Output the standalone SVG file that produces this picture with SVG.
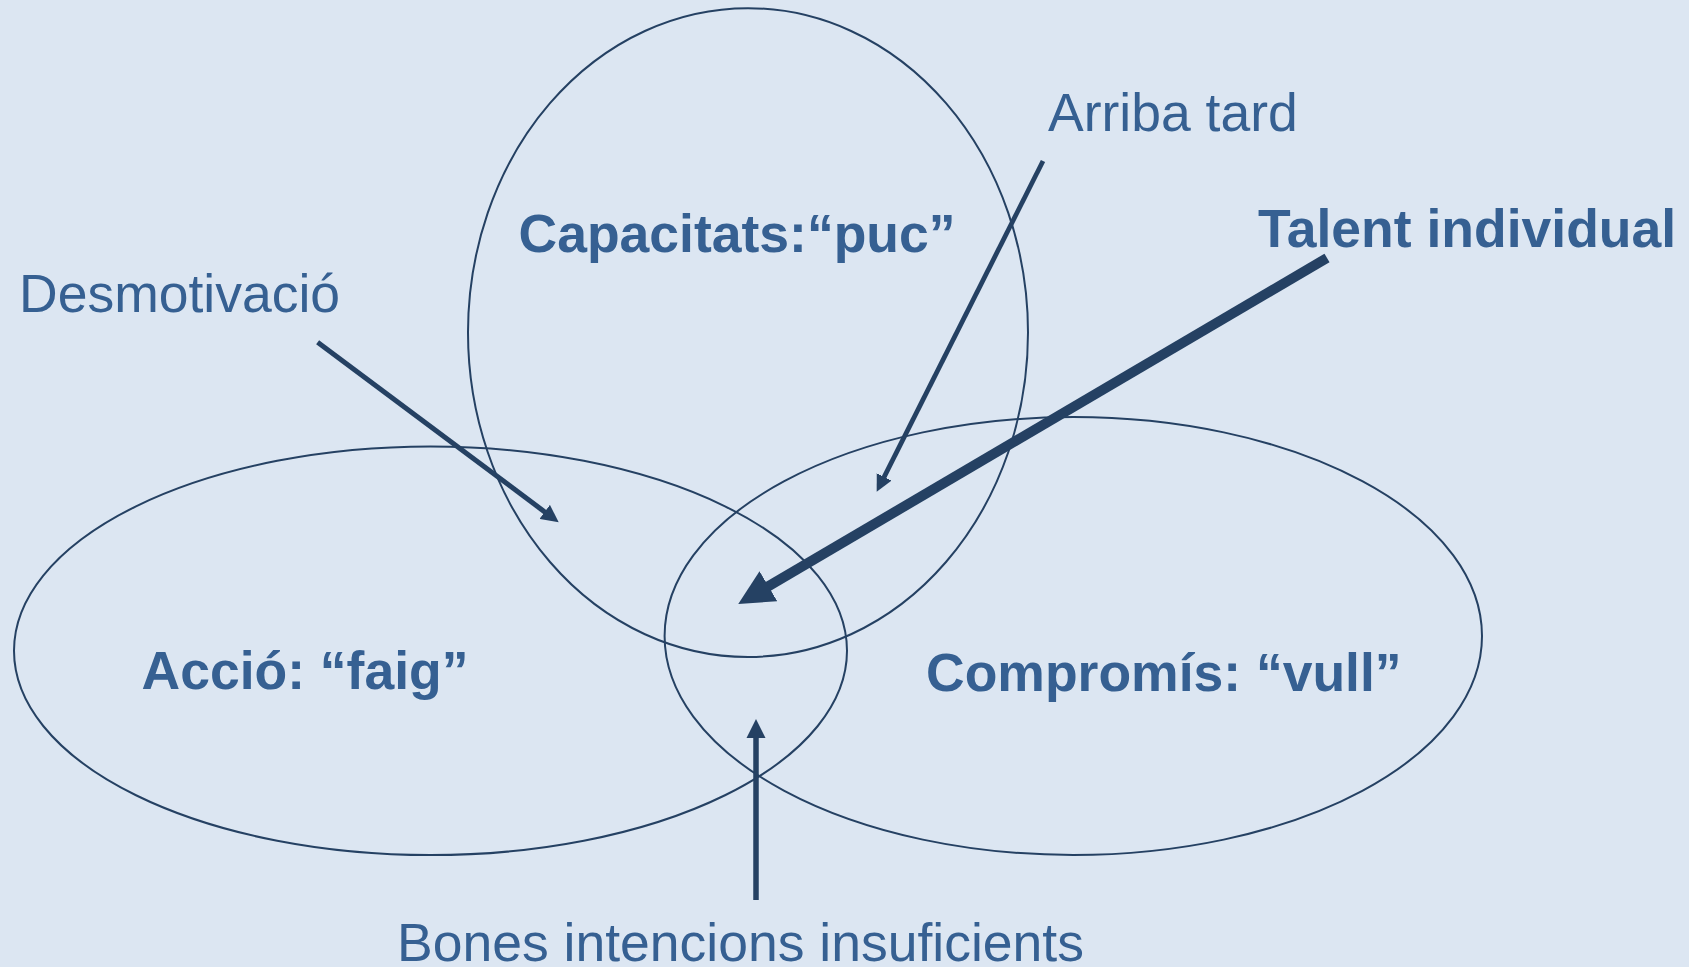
<svg xmlns="http://www.w3.org/2000/svg" width="1689" height="967" viewBox="0 0 1689 967">
<style>
.ell{fill:none;stroke:#254163;stroke-width:2}
.lbl{font-family:"Liberation Sans",Arial,sans-serif;font-size:53.5px;fill:#366092}
.b{font-weight:bold}
.arr{stroke:#254163;fill:none;marker-end:url(#ah)}
</style>
<defs>
<marker id="ah" viewBox="0 0 10 10" refX="0.5" refY="5" markerWidth="3.5" markerHeight="3.6" orient="auto" markerUnits="strokeWidth">
<path d="M0,0 L10,5 L0,10 z" fill="#254163"/>
</marker>
</defs>
<rect x="0" y="0" width="1689" height="967" fill="#DCE6F2"/>
<g id="capacitats">
<ellipse class="ell" cx="748" cy="332.6" rx="280" ry="324.4"/>
<text class="lbl b" x="518.5" y="251.7">Capacitats:“puc”</text>
</g>
<g id="accio">
<ellipse class="ell" cx="430.5" cy="650.8" rx="416.5" ry="204.3"/>
<text class="lbl b" x="141.5" y="689.3">Acció: “faig”</text>
</g>
<g id="compromis">
<ellipse class="ell" cx="1073.3" cy="636" rx="408.7" ry="219"/>
<text class="lbl b" x="926" y="691">Compromís: “vull”</text>
</g>
<g id="desmotivacio">
<text class="lbl" x="19" y="312.3">Desmotivació</text>
</g>
<g id="arriba-tard">
<text class="lbl" x="1048" y="130.7">Arriba tard</text>
</g>
<g id="talent-individual">
<text class="lbl b" x="1258" y="247.3">Talent individual</text>
</g>
<g id="bones-intencions">
<text class="lbl" x="397" y="961">Bones intencions insuficients</text>
</g>
<g id="connectors">
<line class="arr" x1="317.6" y1="342.3" x2="545.4" y2="512.4" stroke-width="5"/>
<line class="arr" x1="1043" y1="161" x2="883.8" y2="477.6" stroke-width="4.75"/>
<line class="arr" x1="1327" y1="258" x2="766.9" y2="587.1" stroke-width="10"/>
<line class="arr" x1="756" y1="900" x2="756" y2="737.3" stroke-width="5.5"/>
</g>
</svg>
